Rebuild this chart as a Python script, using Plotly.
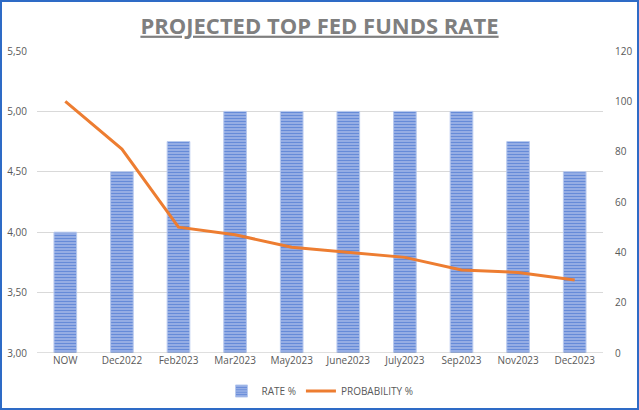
import plotly.graph_objects as go

categories = ["NOW", "Dec2022", "Feb2023", "Mar2023", "May2023", "June2023",
              "July2023", "Sep2023", "Nov2023", "Dec2023"]
rate = [4.00, 4.50, 4.75, 5.00, 5.00, 5.00, 5.00, 5.00, 4.75, 4.50]
probability = [100, 81, 50, 47, 42, 40, 38, 33, 32, 29]
left_ticks = [3.0, 3.5, 4.0, 4.5, 5.0, 5.5]
left_labels = ["3,00", "3,50", "4,00", "4,50", "5,00", "5,50"]
right_ticks = [0, 20, 40, 60, 80, 100, 120]

W, H = 639, 410
ml, mr, mt, mb = 37, 36, 51, 57
font = "Open Sans, sans-serif"

fig = go.Figure()
fig.add_trace(go.Bar(
    x=categories, y=rate, name="RATE %", base=0,
    marker=dict(color="#97AFE4", line=dict(color="#B7C9EE", width=1),
                pattern=dict(shape="-", fgcolor="#2A5DC8", bgcolor="#A3B8E8",
                             size=3, solidity=0.5)),
    yaxis="y",
))
fig.add_trace(go.Scatter(
    x=categories, y=probability, name="PROBABILITY %", mode="lines",
    line=dict(color="#ED7D31", width=3), yaxis="y2",
))

pw = W - ml - mr
ph = H - mt - mb
fig.add_shape(type="rect", xref="paper", yref="paper",
              x0=-(ml - 1) / pw, x1=1 + (mr - 1) / pw,
              y0=-(mb - 1) / ph, y1=1 + (mt - 1) / ph,
              line=dict(color="#2E6BC6", width=2), layer="below")

fig.update_layout(
    width=W, height=H, autosize=False,
    margin=dict(l=ml, r=mr, t=mt, b=mb, autoexpand=False),
    paper_bgcolor="white", plot_bgcolor="white",
    font=dict(family=font, size=10, color="#595959"),
    title=dict(text="<u>PROJECTED TOP FED FUNDS RATE</u>", x=0.5, xanchor="center",
               y=1 - 26 / H, yanchor="middle",
               font=dict(family=font, size=22, color="#7F7F7F", weight="bold")),
    bargap=0.6,
    xaxis=dict(showgrid=False, tickfont=dict(size=10, color="#595959"),
               showline=False, ticks="", automargin=False),
    yaxis=dict(range=[3.0, 5.5], tickvals=left_ticks, ticktext=left_labels,
               showgrid=True, gridcolor="#D9D9D9", gridwidth=1, automargin=False,
               zeroline=False, showline=False, ticks="", ticklabelstandoff=9,
               tickfont=dict(size=10, color="#595959")),
    yaxis2=dict(range=[0, 120], tickvals=right_ticks, overlaying="y", side="right",
                showgrid=False, zeroline=False, showline=False, ticks="",
                ticklabelstandoff=11, automargin=False,
                tickfont=dict(size=10, color="#595959")),
    legend=dict(orientation="h", x=0.5, xanchor="center", y=-38 / ph, yanchor="middle",
                font=dict(size=10, color="#595959")),
    showlegend=True,
)
fig.add_shape(type="line", xref="paper", yref="y", x0=0, x1=1, y0=3.0, y1=3.0,
              line=dict(color="#BFBFBF", width=1))

fig.write_html("out.html", config={"displayModeBar": False},
               post_script="document.body.style.margin='0';"
                           "document.body.style.overflow='hidden';"
                           "document.documentElement.style.overflow='hidden';")
